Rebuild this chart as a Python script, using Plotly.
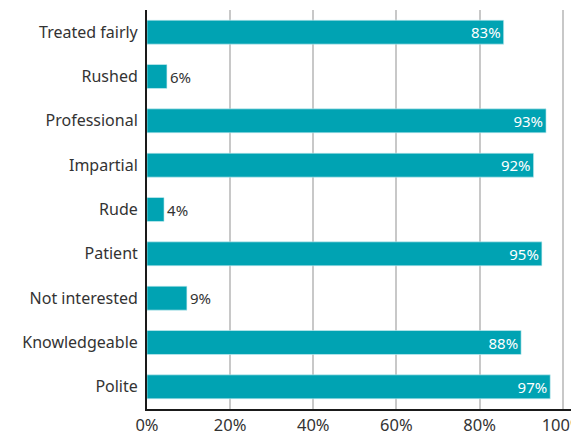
import plotly.graph_objects as go

categories = ["Treated fairly", "Rushed", "Professional", "Impartial", "Rude",
              "Patient", "Not interested", "Knowledgeable", "Polite"]
bar_values = [85.8, 4.8, 96, 93, 4.1, 95, 9.6, 90, 97]
bar_labels = ["83%", "6%", "93%", "92%", "4%", "95%", "9%", "88%", "97%"]
tick_vals = [0, 20, 40, 60, 80, 100]
tick_text = ["0%", "20%", "40%", "60%", "80%", "100%"]

font = "Noto Sans"
positions = ["outside" if v < 20 else "inside" for v in bar_values]

fig = go.Figure()
fig.add_trace(go.Bar(
    x=bar_values,
    y=categories,
    orientation="h",
    text=bar_labels,
    textposition=positions,
    insidetextanchor="end",
    constraintext="none",
    insidetextfont=dict(family=font, size=15, color="white"),
    outsidetextfont=dict(family=font, size=15, color="#333333"),
    cliponaxis=False,
    marker=dict(color="#00A3B3", line=dict(color="#CFEFF2", width=0.6)),
    hoverinfo="skip",
))

# page body has an 8px margin, so the figure is shrunk and shifted to fit the window
fig.update_layout(
    width=571, height=427,
    margin=dict(l=139, r=8, t=2, b=26),
    plot_bgcolor="white",
    paper_bgcolor="white",
    bargap=0.46,
    showlegend=False,
    font=dict(family=font, color="#333333"),
)

fig.update_xaxes(
    range=[0, 102],
    tickvals=tick_vals,
    ticktext=tick_text,
    tickfont=dict(size=16.5, color="#333333"),
    ticklabeloverflow="allow",
    automargin=False,
    showgrid=True, gridcolor="#C8C8C8", gridwidth=1.5,
    showline=True, linecolor="#1A1A1A", linewidth=2,
    zeroline=False,
    ticks="",
    fixedrange=True,
)
fig.update_yaxes(
    autorange="reversed",
    tickfont=dict(size=16, color="#333333"),
    automargin=False,
    showline=True, linecolor="#1A1A1A", linewidth=2,
    ticks="", ticklabelstandoff=4,
    showgrid=False,
    fixedrange=True,
)

fig.write_html("out.html")
